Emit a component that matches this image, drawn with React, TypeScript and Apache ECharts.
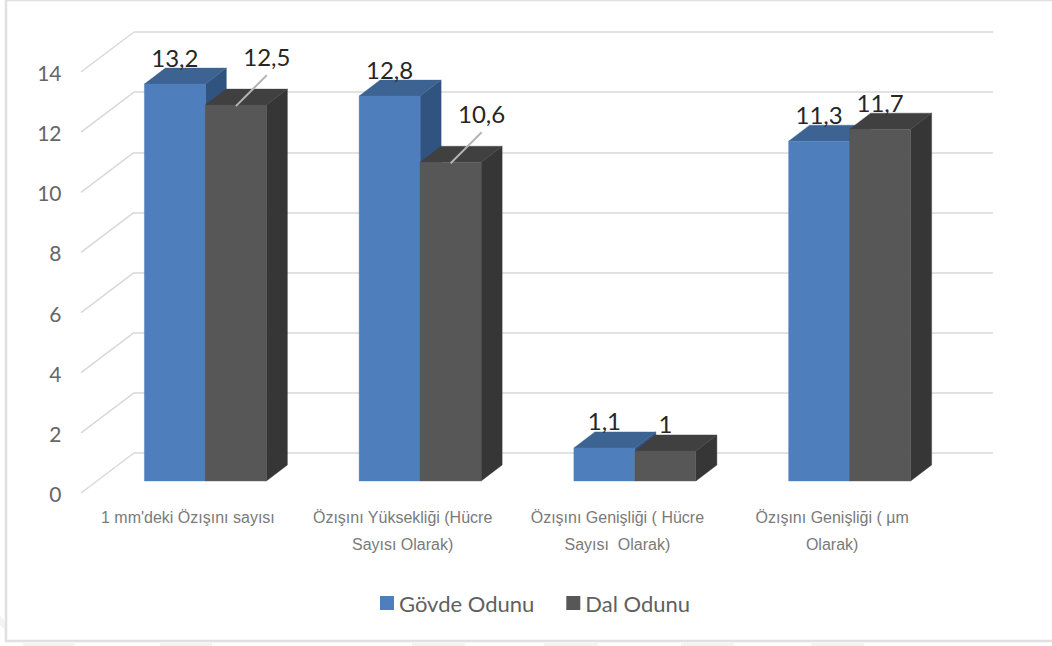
import React, { useEffect, useRef } from "react";
import * as echarts from "echarts";

const categories = [
  "1 mm'deki Özışını sayısı",
  "Özışını Yüksekliği (Hücre\nSayısı Olarak)",
  "Özışını Genişliği ( Hücre\nSayısı  Olarak)",
  "Özışını Genişliği ( µm\nOlarak)",
];
const govdeOdunu = [13.2, 12.8, 1.1, 11.3];
const dalOdunu = [12.5, 10.6, 1, 11.7];
const seriesNames = ["Gövde Odunu", "Dal Odunu"];
const leaderFlags = [
  [false, false, false, false],
  [true, true, false, false],
];
const palette = [
  { front: "#4e7fbc", top: "#3c6391", side: "#31537f" },
  { front: "#575757", top: "#404040", side: "#363636" },
];
const yMax = 14;
const yStep = 2;
const yTicks = [0, 2, 4, 6, 8, 10, 12, 14];
const watermarkSpans = [
  [23, 52],
  [160, 52],
  [412, 53],
  [544, 54],
  [681, 53],
  [811, 53],
];

const BAR_W = 61;
const DEPTH_X = 21;
const DEPTH_Y = 16;
const WALL_X = 53;
const WALL_Y = 40;
const LABEL_FONT = "Lato";

function barRenderer(seriesIndex: number) {
  return (_params: any, api: any) => {
    const cat = api.value(0);
    const val = api.value(1);
    const base = api.coord([cat, 0]);
    const head = api.coord([cat, val]);
    const x0 = base[0] + (seriesIndex === 0 ? -BAR_W : 0);
    const x1 = x0 + BAR_W;
    const yB = base[1];
    const yT = head[1];
    const c = palette[seriesIndex];
    const poly = (points: number[][], fill: string) => ({
      type: "polygon",
      shape: { points },
      style: { fill, stroke: fill, lineWidth: 0.4 },
    });
    const children: any[] = [
      poly(
        [[x1, yB], [x1 + DEPTH_X, yB - DEPTH_Y], [x1 + DEPTH_X, yT - DEPTH_Y], [x1, yT]],
        c.side,
      ),
      poly(
        [[x0, yT], [x0 + DEPTH_X, yT - DEPTH_Y], [x1 + DEPTH_X, yT - DEPTH_Y], [x1, yT]],
        c.top,
      ),
      poly([[x0, yB], [x1, yB], [x1, yT], [x0, yT]], c.front),
    ];
    const cx = (x0 + x1) / 2;
    const leader = leaderFlags[seriesIndex][cat];
    if (leader) {
      children.push({
        type: "line",
        shape: { x1: cx, y1: yT + 1, x2: cx + 31, y2: yT - 30 },
        style: { stroke: "#b4b4b4", lineWidth: 2 },
      });
    }
    children.push({
      type: "text",
      style: {
        x: cx + (leader ? 31 : 0),
        y: yT + (leader ? -49 : -27),
        text: String(val).replace(".", ","),
        fill: "#262626",
        fontFamily: LABEL_FONT,
        fontSize: 24,
        align: "center",
        verticalAlign: "middle",
      },
    });
    return { type: "group", children };
  };
}

function wallRenderer(params: any, api: any) {
  const p = api.coord([0, api.value(0)]);
  const left = params.coordSys.x;
  return {
    type: "line",
    shape: { x1: left, y1: p[1], x2: left - WALL_X, y2: p[1] + WALL_Y },
    style: { stroke: "#d9d9d9", lineWidth: 1.5 },
  };
}

const hiddenCat = (gridIndex: number) => ({
  type: "category" as const,
  gridIndex,
  data: categories,
  axisLine: { show: false },
  axisTick: { show: false },
  axisLabel: { show: false },
});

export default function App() {
  const ref = useRef<HTMLDivElement>(null);
  useEffect(() => {
    const chart = echarts.init(ref.current!, undefined, { renderer: "svg" });
    chart.setOption({
      animation: false,
      backgroundColor: "#ffffff",
      graphic: [
        ...watermarkSpans.map(([x, width]) => ({
          type: "rect",
          silent: true,
          z: 0,
          shape: { x, y: 643, width, height: 3 },
          style: { fill: "#f3f3f3" },
        })),
        {
          type: "polygon",
          silent: true,
          z: 0,
          shape: { points: [[0, 615], [5, 622], [5, 630], [0, 625]] },
          style: { fill: "#f3f3f3" },
        },
        {
          type: "rect",
          silent: true,
          z: 0,
          shape: { x: 6, y: 0, width: 1060, height: 641 },
          style: { fill: "none", stroke: "#e0e0e0", lineWidth: 2.5 },
        },
      ],
      legend: {
        show: true,
        left: 375,
        top: 587,
        icon: "rect",
        itemWidth: 14,
        itemHeight: 14,
        itemGap: 32,
        selectedMode: false,
        data: seriesNames,
        textStyle: { color: "#606060", fontFamily: LABEL_FONT, fontSize: 22 },
      },
      grid: [
        { left: 80.5, top: 72.5, width: 859, height: 421 },
        { left: 98, top: 60, width: 859, height: 421 },
        { left: 134, top: 32, width: 859, height: 421 },
      ],
      xAxis: [
        {
          type: "category",
          gridIndex: 0,
          data: categories,
          axisLine: { show: false },
          axisTick: { show: false },
          axisLabel: {
            margin: 10,
            interval: 0,
            color: "#7a7a7a",
            fontFamily: "Liberation Sans",
            fontSize: 16,
            lineHeight: 27,
          },
        },
        hiddenCat(1),
        hiddenCat(2),
      ],
      yAxis: [
        {
          type: "value",
          gridIndex: 0,
          min: 0,
          max: yMax,
          interval: yStep,
          axisLine: { show: false },
          axisTick: { show: false },
          splitLine: { show: false },
          axisLabel: {
            margin: 19,
            padding: [4, 0, 0, 0],
            color: "#666666",
            fontFamily: LABEL_FONT,
            fontSize: 21,
          },
        },
        {
          type: "value",
          gridIndex: 1,
          min: 0,
          max: yMax,
          interval: yStep,
          axisLine: { show: false },
          axisTick: { show: false },
          axisLabel: { show: false },
          splitLine: { show: false },
        },
        {
          type: "value",
          gridIndex: 2,
          min: 0,
          max: yMax,
          interval: yStep,
          axisLine: { show: false },
          axisTick: { show: false },
          axisLabel: { show: false },
          splitLine: { show: true, lineStyle: { color: "#d9d9d9", width: 1.5 } },
        },
      ],
      series: [
        {
          type: "custom",
          name: "wall",
          xAxisIndex: 2,
          yAxisIndex: 2,
          silent: true,
          clip: false,
          z: 1,
          data: yTicks.map((t) => [t]),
          encode: { y: 0 },
          renderItem: wallRenderer,
        },
        ...[govdeOdunu, dalOdunu].map((values, i) => ({
          type: "custom" as const,
          name: seriesNames[i],
          xAxisIndex: 1,
          yAxisIndex: 1,
          clip: false,
          z: 3 + i,
          itemStyle: { color: palette[i].front },
          data: values.map((v, c) => [c, v]),
          encode: { x: 0, y: 1 },
          renderItem: barRenderer(i),
        })),
      ],
    });
    return () => chart.dispose();
  }, []);
  return (
    <div
      ref={ref}
      style={{ position: "absolute", left: 0, top: 0, width: 1052, height: 646 }}
    />
  );
}
